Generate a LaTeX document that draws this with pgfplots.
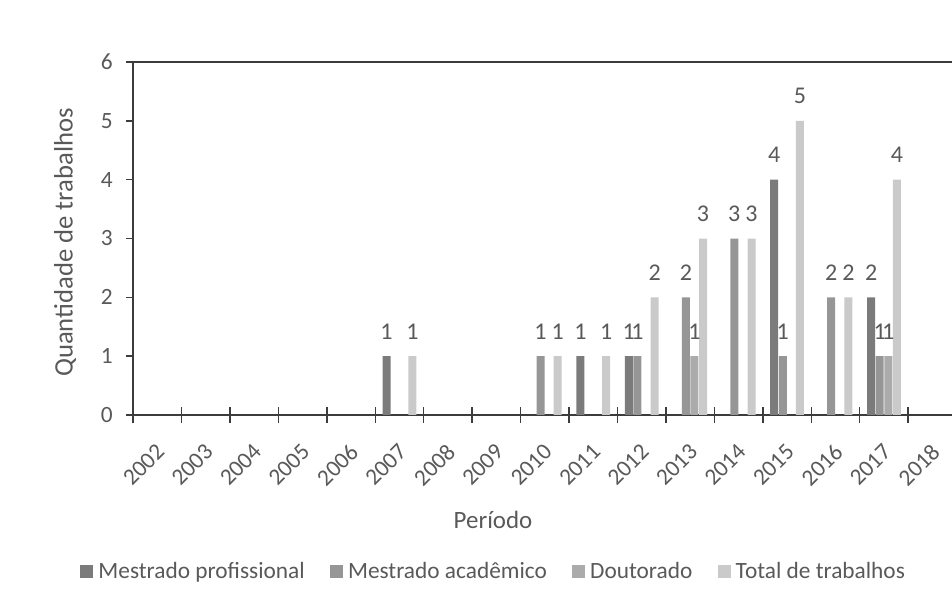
\documentclass[border=0pt]{standalone}
\usepackage{fontspec}
\setmainfont{Carlito}
\usepackage{pgfplots}
\pgfplotsset{compat=1.18}
\definecolor{cprof}{HTML}{7B7B7B}
\definecolor{cacad}{HTML}{969696}
\definecolor{cdout}{HTML}{ABABAB}
\definecolor{ctot}{HTML}{CACACA}
\definecolor{txt}{HTML}{595959}
\definecolor{axc}{HTML}{3C3C3C}
\pgfplotsset{sqleg/.style={legend image code/.code={\fill[##1] (0pt,-4.9pt) rectangle (9.75pt,4.9pt); \path (11.5pt,0pt);}}}
\begin{document}
\begin{tikzpicture}
\begin{axis}[
  at={(0,0)}, anchor=south west,
  scale only axis, width=614.25pt, height=264.75pt,
  xmin=-0.5, xmax=16.404, ymin=0, ymax=6,
  axis x line*=box, axis y line*=left,
  axis line style={draw=axc, line width=1.1pt},
  every tick/.style={draw=axc, line width=1.1pt},
  ybar=0.45pt, bar width=6pt,
  major tick length=0pt,
  xtick pos=left,
  xtick={0,1,2,3,4,5,6,7,8,9,10,11,12,13,14,15,16},
  xticklabels={2002,2003,2004,2005,2006,2007,2008,2009,2010,2011,2012,2013,2014,2015,2016,2017,2018},
  ytick={0,1,2,3,4,5,6},
  extra x ticks={-0.5,0.5,...,15.5},
  extra x tick labels={},
  extra x tick style={major tick length=12pt, xtick align=center},
  extra y ticks={0,1,2,3,4,5,6},
  extra y tick labels={},
  extra y tick style={major tick length=5.25pt, ytick align=outside},
  /pgf/number format/assume math mode=true,
  xticklabel style={xshift=2.5pt, yshift=-24.75pt, rotate=45, anchor=east, inner sep=0pt, font=\fontsize{17.5}{20}\selectfont, text=txt},
  yticklabel style={anchor=east, inner sep=0pt, font=\fontsize{17.5}{20}\selectfont, text=txt, xshift=-15pt},
  ylabel={Quantidade de trabalhos},
  ylabel style={at={(axis description cs:-0.0830,0.4887)}, anchor=center, font=\fontsize{20}{24}\selectfont, text=txt},
  xlabel={Período},
  xlabel style={at={(axis description cs:0.4396,-0.321)}, anchor=base, font=\fontsize{18.7}{22}\selectfont, text=txt},
  nodes near coords,
  every node near coord/.append style={anchor=south, inner sep=0pt, yshift=12.5pt, font=\fontsize{18}{21}\selectfont, text=txt},
  legend columns=4,
  legend style={at={(axis description cs:0.4408,-0.4433)}, anchor=center, draw=none, fill=none,
    font=\fontsize{17.5}{21}\selectfont, text=txt,
    /tikz/every even column/.append style={column sep=17pt}},
  clip=false,
]
\addplot[fill=cprof, draw=none, sqleg] coordinates {(5,1) (9,1) (10,1) (13,4) (15,2)};
\addplot[fill=cacad, draw=none, sqleg] coordinates {(8,1) (10,1) (11,2) (12,3) (13,1) (14,2) (15,1)};
\addplot[fill=cdout, draw=none, sqleg] coordinates {(11,1) (15,1)};
\addplot[fill=ctot, draw=none, sqleg] coordinates {(5,1) (8,1) (9,1) (10,2) (11,3) (12,3) (13,5) (14,2) (15,4)};
\legend{Mestrado profissional, Mestrado acadêmico, Doutorado, Total de trabalhos}
\end{axis}
\pgfresetboundingbox
\path[use as bounding box] (-99.75pt,-140.25pt) rectangle (614.25pt,311.25pt);
\end{tikzpicture}
\end{document}
